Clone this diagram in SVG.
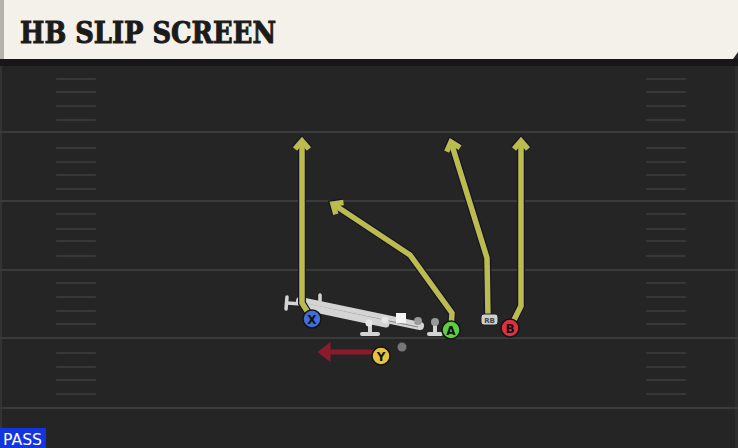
<svg xmlns="http://www.w3.org/2000/svg" width="738" height="448" viewBox="0 0 738 448">
<style>
.yard{stroke:#3b3b3b;stroke-width:2}
.hash{stroke:#383838;stroke-width:2;stroke-linecap:round}
.rd{fill:none;stroke:#15152a;stroke-width:8;stroke-linejoin:miter;stroke-linecap:butt}
.ry{fill:none;stroke:#bcbb4e;stroke-width:5.5;stroke-linejoin:miter;stroke-linecap:butt}
.ol{fill:none;stroke:#d4d4d4;stroke-linecap:round}
.pl{stroke:#141414;stroke-width:1.5}
.lt{font-family:"DejaVu Sans",sans-serif;font-weight:bold;font-size:12px;fill:#111;text-anchor:middle}
</style>
<defs>
<marker id="hd" markerUnits="userSpaceOnUse" markerWidth="24" markerHeight="24" refX="12" refY="12" orient="auto" overflow="visible">
<path d="M4,5 L12,12 L4,19" fill="none" stroke="#15152a" stroke-width="8" stroke-linejoin="miter"/>
</marker>
<marker id="hy" markerUnits="userSpaceOnUse" markerWidth="24" markerHeight="24" refX="12" refY="12" orient="auto" overflow="visible">
<path d="M4,5 L12,12 L4,19" fill="none" stroke="#bcbb4e" stroke-width="5.5" stroke-linejoin="miter"/>
</marker>
<marker id="hr" markerUnits="userSpaceOnUse" markerWidth="24" markerHeight="24" refX="12" refY="12" orient="auto" overflow="visible">
<path d="M3,5 L12,12 L3,19 Z" fill="#8a1a2c" stroke="#8a1a2c" stroke-width="3" stroke-linejoin="miter"/>
</marker>
</defs>
<rect x="0" y="0" width="738" height="448" fill="#252525"/>
<rect x="0" y="0" width="2" height="448" fill="#333"/>
<rect x="735" y="60" width="3" height="388" fill="#2e2e2e"/>
<g id="field">
<line class="yard" x1="0" y1="132" x2="738" y2="132"/>
<line class="yard" x1="0" y1="201" x2="738" y2="201"/>
<line class="yard" x1="0" y1="270" x2="738" y2="270"/>
<line class="yard" x1="0" y1="338" x2="738" y2="338"/>
<line class="yard" x1="0" y1="408" x2="738" y2="408"/>
<g id="hashL">
<line class="hash" x1="57" y1="79" x2="95" y2="79"/><line class="hash" x1="57" y1="92" x2="95" y2="92"/><line class="hash" x1="57" y1="106" x2="95" y2="106"/><line class="hash" x1="57" y1="120" x2="95" y2="120"/>
<line class="hash" x1="57" y1="148" x2="95" y2="148"/><line class="hash" x1="57" y1="162" x2="95" y2="162"/><line class="hash" x1="57" y1="175" x2="95" y2="175"/><line class="hash" x1="57" y1="189" x2="95" y2="189"/>
<line class="hash" x1="57" y1="214" x2="95" y2="214"/><line class="hash" x1="57" y1="229" x2="95" y2="229"/><line class="hash" x1="57" y1="241" x2="95" y2="241"/><line class="hash" x1="57" y1="256" x2="95" y2="256"/>
<line class="hash" x1="57" y1="283" x2="95" y2="283"/><line class="hash" x1="57" y1="297" x2="95" y2="297"/><line class="hash" x1="57" y1="311" x2="95" y2="311"/><line class="hash" x1="57" y1="324" x2="95" y2="324"/>
<line class="hash" x1="57" y1="353" x2="95" y2="353"/><line class="hash" x1="57" y1="367" x2="95" y2="367"/><line class="hash" x1="57" y1="380" x2="95" y2="380"/><line class="hash" x1="57" y1="394" x2="95" y2="394"/>
</g>
<g id="hashR">
<line class="hash" x1="647" y1="79" x2="685" y2="79"/><line class="hash" x1="647" y1="92" x2="685" y2="92"/><line class="hash" x1="647" y1="106" x2="685" y2="106"/><line class="hash" x1="647" y1="120" x2="685" y2="120"/>
<line class="hash" x1="647" y1="148" x2="685" y2="148"/><line class="hash" x1="647" y1="162" x2="685" y2="162"/><line class="hash" x1="647" y1="175" x2="685" y2="175"/><line class="hash" x1="647" y1="189" x2="685" y2="189"/>
<line class="hash" x1="647" y1="214" x2="685" y2="214"/><line class="hash" x1="647" y1="229" x2="685" y2="229"/><line class="hash" x1="647" y1="241" x2="685" y2="241"/><line class="hash" x1="647" y1="256" x2="685" y2="256"/>
<line class="hash" x1="647" y1="283" x2="685" y2="283"/><line class="hash" x1="647" y1="297" x2="685" y2="297"/><line class="hash" x1="647" y1="311" x2="685" y2="311"/><line class="hash" x1="647" y1="324" x2="685" y2="324"/>
<line class="hash" x1="647" y1="353" x2="685" y2="353"/><line class="hash" x1="647" y1="367" x2="685" y2="367"/><line class="hash" x1="647" y1="380" x2="685" y2="380"/><line class="hash" x1="647" y1="394" x2="685" y2="394"/>
</g>
</g>
<g id="header">
<rect x="0" y="59" width="738" height="7" fill="#171717"/>
<path d="M0,0 H738 V52 L733,59 H0 Z" fill="#f4f1ea"/>
<rect x="0" y="0" width="4" height="59" fill="#b4b2ad"/>
<text x="20" y="43" font-family="'DejaVu Serif',serif" font-weight="bold" font-size="30" fill="#1b1b1b" stroke="#1b1b1b" stroke-width="1" textLength="256" lengthAdjust="spacingAndGlyphs">HB SLIP SCREEN</text>
</g>
<g id="oline">
<line class="ol" x1="287" y1="297" x2="286" y2="309" stroke-width="3.5"/>
<line class="ol" x1="287" y1="303" x2="302" y2="304" stroke-width="3.5"/>
<line class="ol" x1="300" y1="301" x2="420" y2="326" stroke-width="8"/>
<line x1="304" y1="303.5" x2="418" y2="327" stroke="#8a8a8a" stroke-width="1.2"/>
<line class="ol" x1="306" y1="307" x2="386" y2="324" stroke-width="7"/>
<line class="ol" x1="303" y1="295" x2="303" y2="302" stroke-width="3.5"/>
<line class="ol" x1="320" y1="295" x2="320" y2="302" stroke-width="3.5"/>
<line class="ol" x1="370" y1="322" x2="370" y2="333" stroke-width="4"/>
<line class="ol" x1="362" y1="334" x2="378" y2="334" stroke-width="4"/>
<line class="ol" x1="435" y1="324" x2="435" y2="333" stroke-width="4"/>
<line class="ol" x1="429" y1="334" x2="441" y2="334" stroke-width="4"/>
<circle cx="435" cy="322" r="4" fill="#9a9a9a"/>
<circle cx="418" cy="321" r="4" fill="#9a9a9a"/>
<circle cx="369" cy="323" r="3.5" fill="#e6e6e6"/>
<circle cx="385" cy="320" r="3.5" fill="#e6e6e6"/>
<rect x="396" y="313" width="10" height="10" fill="#f4f4f4"/>
</g>
<g id="connectors">
<path class="rd" d="M312,319 L302,303 L302,141" marker-end="url(#hd)"/>
<path class="rd" d="M451,330 L452,313 L410,255 L333,204" marker-end="url(#hd)"/>
<path class="rd" d="M488,318 L487,258 L451,142" marker-end="url(#hd)"/>
<path class="rd" d="M510,328 L521,306 L521,141" marker-end="url(#hd)"/>
<path class="ry" d="M312,319 L302,303 L302,141" marker-end="url(#hy)"/>
<path class="ry" d="M451,330 L452,313 L410,255 L333,204" marker-end="url(#hy)"/>
<path class="ry" d="M488,318 L487,258 L451,142" marker-end="url(#hy)"/>
<path class="ry" d="M510,328 L521,306 L521,141" marker-end="url(#hy)"/>
<path d="M374,352 L320,352" fill="none" stroke="#8a1a2c" stroke-width="5" marker-end="url(#hr)"/>
</g>
<g id="ball"><circle cx="402" cy="347" r="4.5" fill="#777"/></g>
<g id="RB">
<rect x="481" y="314" width="17" height="11" rx="3" fill="#cfcfcf" stroke="#222" stroke-width="1"/>
<text x="489.5" y="322.5" font-family="'DejaVu Sans',sans-serif" font-size="7" font-weight="bold" fill="#444" text-anchor="middle">RB</text>
</g>
<g id="X"><circle class="pl" cx="312" cy="319" r="9" fill="#3f6fd8"/><text class="lt" x="312" y="323.5">X</text></g>
<g id="A"><circle class="pl" cx="451" cy="330" r="9" fill="#5ccf3c"/><text class="lt" x="451" y="334.5">A</text></g>
<g id="B"><circle class="pl" cx="510" cy="328" r="9" fill="#e3303f"/><text class="lt" x="510" y="332.5">B</text></g>
<g id="Y"><circle class="pl" cx="381" cy="356" r="9" fill="#e8c23a"/><text class="lt" x="381" y="360.5">Y</text></g>
<g id="pass">
<rect x="0" y="428" width="46" height="20" fill="#1434e0"/>
<text x="3" y="445" font-family="'DejaVu Sans',sans-serif" font-size="16" fill="#ffffff" textLength="39" lengthAdjust="spacingAndGlyphs">PASS</text>
</g>
</svg>
